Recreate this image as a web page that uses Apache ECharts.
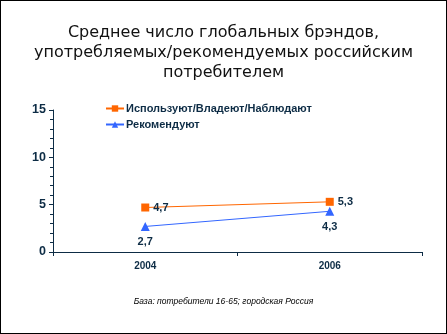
<!DOCTYPE html>
<html><head><meta charset="utf-8">
<script src="https://cdn.jsdelivr.net/npm/echarts@6/dist/echarts.min.js"></script>
<style>html,body{margin:0;padding:0;background:#fff}#c{width:447px;height:334px;box-sizing:border-box;border:1px solid #000}</style>
</head><body><div id="c"></div>
<script>
const categories = ['2004', '2006'];
const seriesNames = ['Используют/Владеют/Наблюдают', 'Рекомендуют'];
const useValues = [4.7, 5.3];
const recValues = [2.7, 4.3];
const titleText = 'Среднее число глобальных брэндов,\nупотребляемых/рекомендуемых российским\nпотребителем';
const footText = 'База: потребители 16-65; городская Россия';

const navy = '#0d2c45';
const chart = echarts.init(document.getElementById('c'), null, {renderer: 'canvas'});
const fmt = p => String(p.value).replace('.', ',');
chart.setOption({
  animation: false,
  title: [{
    text: titleText, left: 'center', top: 17,
    textStyle: {fontFamily: 'DejaVu Sans', fontSize: 16, fontWeight: 'normal', color: '#111', lineHeight: 20}
  }, {
    text: footText, left: 'center', top: 291,
    textStyle: {fontFamily: 'Liberation Sans', fontSize: 8.5, fontStyle: 'italic', fontWeight: 'normal', color: '#000'}
  }],
  legend: {
    orient: 'vertical', left: 99, top: 97, itemWidth: 18, itemHeight: 8, itemGap: 5,
    textStyle: {fontFamily: 'Liberation Sans', fontSize: 11, fontWeight: 'bold', color: navy, padding: [0, 0, 0, -3]},
    data: seriesNames
  },
  grid: {left: 52, right: 24, top: 109, bottom: 81},
  xAxis: {
    type: 'category', data: categories, boundaryGap: true,
    axisLine: {lineStyle: {color: navy, width: 1}},
    axisTick: {show: true, length: 4, lineStyle: {color: navy}},
    axisLabel: {fontFamily: 'Liberation Sans', fontSize: 10, fontWeight: 'bold', color: navy, margin: 9}
  },
  yAxis: {
    type: 'value', min: 0, max: 15, interval: 5,
    axisLine: {show: true, lineStyle: {color: navy, width: 1}},
    axisTick: {show: true, length: 4, lineStyle: {color: navy}},
    minorTick: {show: true, splitNumber: 5, length: 3, lineStyle: {color: navy}},
    splitLine: {show: false},
    axisLabel: {fontFamily: 'Liberation Sans', fontSize: 12.5, fontWeight: 'bold', color: navy, margin: 7}
  },
  series: [{
    name: seriesNames[0], type: 'line', data: useValues,
    symbol: 'rect', symbolSize: 8,
    itemStyle: {color: '#FF6600'}, lineStyle: {color: '#FF6600', width: 1},
    label: {show: true, position: 'right', distance: 4, formatter: fmt,
      fontFamily: 'Liberation Sans', fontSize: 11, fontWeight: 'bold', color: navy}
  }, {
    name: seriesNames[1], type: 'line', data: recValues,
    symbol: 'triangle', symbolSize: 9,
    itemStyle: {color: '#3366FF'}, lineStyle: {color: '#3366FF', width: 1},
    label: {show: true, position: 'bottom', distance: 6, formatter: fmt,
      fontFamily: 'Liberation Sans', fontSize: 11, fontWeight: 'bold', color: navy}
  }]
});
</script></body></html>
